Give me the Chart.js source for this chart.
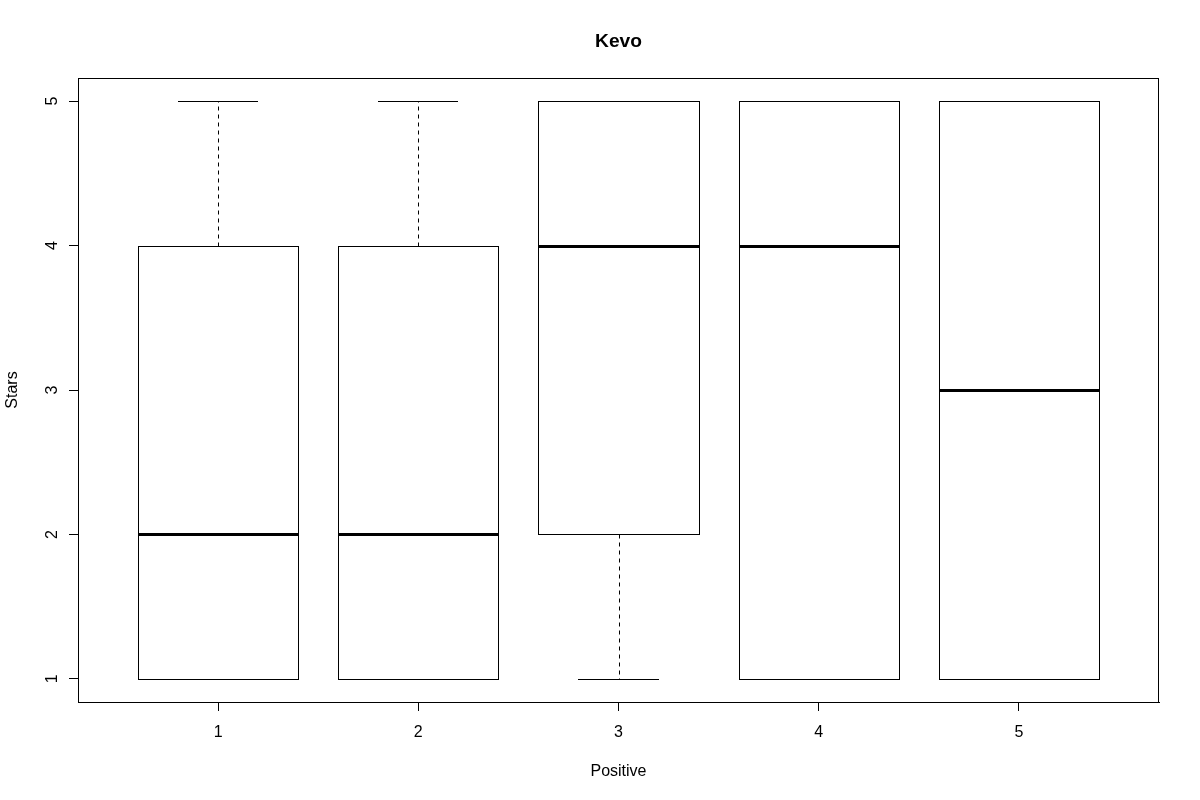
<!DOCTYPE html>
<html>
<head>
<meta charset="utf-8">
<script src="https://cdn.jsdelivr.net/npm/chart.js@4/dist/chart.umd.min.js"></script>
<style>
  html, body { margin: 0; padding: 0; background: #ffffff; }
  #wrap { width: 1200px; height: 800px; }
</style>
</head>
<body>
<div id="wrap"><canvas id="c" width="1200" height="800"></canvas></div>
<script>
// ---- data ----
const categories   = [1, 2, 3, 4, 5];
const whiskerLow   = [1, 1, 1, 1, 1];
const lowerQuart   = [1, 1, 2, 1, 1];
const medians      = [2, 2, 4, 4, 3];
const upperQuart   = [4, 4, 5, 5, 5];
const whiskerHigh  = [5, 5, 5, 5, 5];
const xTickValues  = [1, 2, 3, 4, 5];
const yTickValues  = [1, 2, 3, 4, 5];
const titleText    = 'Kevo';
const xTitle       = 'Positive';
const yTitle       = 'Stars';

Chart.defaults.font.family = '"Liberation Sans", Arial, sans-serif';
Chart.defaults.color = '#000000';

const boxWhiskerPlugin = {
  id: 'boxWhisker',
  afterDatasetsDraw(chart) {
    const ctx = chart.ctx;
    const xs = chart.scales.x, ys = chart.scales.y;
    const a = chart.chartArea;
    const meta = chart.getDatasetMeta(0);
    const px = v => Math.round(v) + 0.5;
    ctx.save();
    ctx.strokeStyle = '#000000';
    categories.forEach((c, i) => {
      const cx = px(xs.getPixelForValue(c));
      const capL = Math.round(xs.getPixelForValue(c - 0.2)), capR = Math.round(xs.getPixelForValue(c + 0.2));
      const el = meta.data[i];
      const p = el.getProps(['x', 'y', 'base', 'width'], true);
      const boxL = px(p.x - p.width / 2), boxR = px(p.x + p.width / 2);
      const yq1 = px(ys.getPixelForValue(lowerQuart[i]));
      const yq3 = px(ys.getPixelForValue(upperQuart[i]));
      const ylo = px(ys.getPixelForValue(whiskerLow[i]));
      const yhi = px(ys.getPixelForValue(whiskerHigh[i]));
      // dashed whiskers
      ctx.lineWidth = 1;
      ctx.setLineDash([4, 4]);
      if (whiskerHigh[i] > upperQuart[i]) {
        ctx.beginPath(); ctx.moveTo(cx, yq3); ctx.lineTo(cx, yhi); ctx.stroke();
      }
      if (whiskerLow[i] < lowerQuart[i]) {
        ctx.beginPath(); ctx.moveTo(cx, yq1); ctx.lineTo(cx, ylo); ctx.stroke();
      }
      // staples
      ctx.setLineDash([]);
      ctx.beginPath(); ctx.moveTo(capL, yhi); ctx.lineTo(capR, yhi); ctx.stroke();
      ctx.beginPath(); ctx.moveTo(capL, ylo); ctx.lineTo(capR, ylo); ctx.stroke();
      // box outline (from the bar element geometry)
      ctx.strokeRect(boxL, yq3, boxR - boxL, yq1 - yq3);
      // median
      const ym = Math.round(ys.getPixelForValue(medians[i]));
      ctx.lineWidth = 3;
      ctx.beginPath(); ctx.moveTo(boxL, ym + 0.5); ctx.lineTo(boxR, ym + 0.5); ctx.stroke();
    });
    // plot box
    ctx.lineWidth = 1;
    ctx.strokeRect(Math.round(a.left) + 0.5, Math.round(a.top) + 0.5,
                   Math.round(a.right - a.left) - 1, Math.round(a.bottom - a.top));
    ctx.restore();
  }
};

new Chart(document.getElementById('c'), {
  type: 'bar',
  data: {
    datasets: [{
      label: 'Stars',
      data: categories.map((c, i) => ({ x: c, y: [lowerQuart[i], upperQuart[i]] })),
      backgroundColor: '#ffffff',
      borderColor: '#000000',
      borderWidth: 0,
      borderSkipped: false,
      barPercentage: 0.8,
      categoryPercentage: 1.0
    }]
  },
  options: {
    responsive: false,
    animation: false,
    devicePixelRatio: 1,
    layout: { padding: { top: 0, left: 0, right: 41, bottom: 0 } },
    plugins: {
      legend: { display: false },
      tooltip: { enabled: false },
      title: {
        display: true,
        text: titleText,
        fullSize: false,
        color: '#000000',
        font: { size: 19.2, weight: 'bold' },
        padding: { top: 30.5, bottom: 24.5 }
      }
    },
    scales: {
      x: {
        type: 'linear',
        min: 0.3, max: 5.7,
        offset: false,
        afterBuildTicks: s => { s.ticks = xTickValues.map(v => ({ value: v })); },
        afterFit: s => { s.height = 98; },
        grid: { display: true, offset: false, drawOnChartArea: false, drawTicks: true, tickLength: 9, tickColor: '#000000', tickWidth: 1 },
        border: { display: true, color: '#000000', width: 1 },
        ticks: { color: '#000000', font: { size: 16 }, padding: 12, maxRotation: 0, autoSkip: false,
                 callback: v => String(v) },
        title: { display: true, text: xTitle, color: '#000000', font: { size: 16 }, padding: { top: 0, bottom: 19 } }
      },
      y: {
        type: 'linear',
        min: 0.84, max: 5.16,
        afterBuildTicks: s => { s.ticks = yTickValues.map(v => ({ value: v })); },
        afterFit: s => { s.width = 78; },
        grid: { display: true, drawOnChartArea: false, drawTicks: true, tickLength: 9, tickColor: '#000000', tickWidth: 1 },
        border: { display: true, color: '#000000', width: 1 },
        ticks: { color: '#000000', font: { size: 16 }, padding: 12, minRotation: 90, maxRotation: 90,
                 crossAlign: 'center', autoSkip: false, callback: v => String(v) },
        title: { display: true, text: yTitle, color: '#000000', font: { size: 16 }, padding: { top: 3, bottom: 0 } }
      }
    }
  },
  plugins: [boxWhiskerPlugin]
});
</script>
</body>
</html>
